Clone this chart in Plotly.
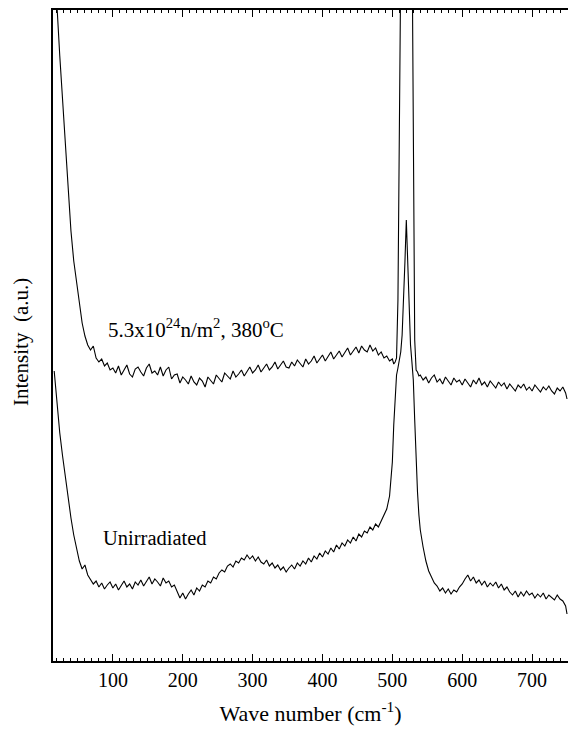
import plotly.graph_objects as go

# Wave number grid (cm^-1) shared by both spectra
wavenumber = [16, 20, 24, 28, 32, 36, 40, 44, 48, 52,
              56, 60, 64, 68, 72, 76, 80, 84, 88, 92,
              96, 100, 104, 108, 112, 116, 120, 124, 128, 132,
              136, 140, 144, 148, 152, 156, 160, 164, 168, 172,
              176, 180, 184, 188, 192, 196, 200, 204, 208, 212,
              216, 220, 224, 228, 232, 236, 240, 244, 248, 252,
              256, 260, 264, 268, 272, 276, 280, 284, 288, 292,
              296, 300, 304, 308, 312, 316, 320, 324, 328, 332,
              336, 340, 344, 348, 352, 356, 360, 364, 368, 372,
              376, 380, 384, 388, 392, 396, 400, 404, 408, 412,
              416, 420, 424, 428, 432, 436, 440, 444, 448, 452,
              456, 460, 464, 468, 472, 476, 480, 484, 488, 492,
              496, 500,
              502, 504, 506, 508, 510, 512, 514, 516, 518, 520,
              522, 524, 526, 528, 530, 532, 534, 536, 538,
              540, 544, 548, 552, 556, 560, 564, 568, 572, 576,
              580, 584, 588, 592, 596, 600, 604, 608, 612, 616,
              620, 624, 628, 632, 636, 640, 644, 648, 652, 656,
              660, 664, 668, 672, 676, 680, 684, 688, 692, 696,
              700, 704, 708, 712, 716, 720, 724, 728, 732, 736,
              740, 744, 748, 750]

# Irradiated sample (5.3x10^24 n/m^2, 380 C), intensity in a.u.
irradiated = [820, 655, 605, 560, 515, 470, 430, 400, 378, 357,
              338, 325, 316, 311, 315, 303, 299, 302, 295, 298,
              291, 293, 288, 295, 286, 291, 296, 287, 284, 292,
              294, 289, 285, 293, 297, 288, 290, 286, 294, 285,
              291, 294, 282, 286, 287, 278, 284, 281, 277, 285,
              279, 276, 283, 280, 274, 284, 281, 277, 286, 282,
              279, 288, 285, 282, 290, 284, 287, 291, 285, 289,
              294, 288, 291, 296, 289, 293, 297, 291, 294, 299,
              292, 296, 300, 294, 293, 299, 295, 301, 298, 294,
              302, 297, 300, 305, 298, 302, 306, 300, 304, 309,
              302, 306, 310, 304, 308, 313, 306, 310, 314, 308,
              315, 311, 309, 316, 310, 313, 306, 309, 303, 305,
              300, 302,
              297, 299, 303, 361, 511, 661, 861, 1061, 1261, 1361,
              1311, 1161, 961, 711, 461, 321, 291, 289, 285,
              286, 281, 284, 278, 283, 286, 279, 282, 277, 284,
              280, 276, 283, 279, 281, 276, 282, 278, 274, 281,
              277, 283, 276, 279, 274, 280, 277, 273, 279, 275,
              278, 272, 277, 274, 270, 276, 273, 277, 271, 274,
              270, 276, 272, 269, 274, 271, 275, 270, 267, 273,
              270, 274, 268, 262]

# Unirradiated sample, intensity in a.u.
unirradiated = [290, 256, 228, 205, 183, 163, 143, 126, 112, 100,
                92, 96, 86, 82, 77, 80, 74, 78, 72, 76,
                79, 73, 77, 71, 75, 80, 74, 77, 72, 79,
                76, 81, 75, 79, 84, 77, 82, 79, 75, 83,
                78, 80, 74, 76, 70, 63, 68, 62, 67, 71,
                66, 73, 70, 76, 74, 80, 78, 84, 82, 88,
                91, 89, 95, 97, 94, 100, 98, 103, 101, 106,
                102, 105, 100, 104, 99, 97, 101, 95, 98, 93,
                96, 91, 94, 89, 93, 96, 92, 98, 95, 100,
                97, 103, 99, 105, 102, 108, 104, 110, 107, 113,
                109, 116, 112, 118, 115, 121, 118, 124, 120, 127,
                124, 130, 128, 134, 131, 137, 134, 140, 145, 152,
                165, 199,
                236, 269, 286, 293, 301, 309, 326, 356, 399, 441,
                399, 351, 316, 299, 281, 241, 199, 169, 146,
                131, 114, 100, 90, 84, 78, 75, 70, 73, 68,
                72, 67, 71, 69, 74, 77, 82, 86, 80, 84,
                78, 81, 76, 80, 74, 78, 75, 79, 73, 77,
                71, 74, 69, 66, 70, 64, 69, 65, 70, 66,
                68, 63, 67, 64, 68, 62, 66, 63, 61, 66,
                62, 60, 55, 47]

assert len(wavenumber) == len(irradiated) == len(unirradiated)

serif = "Liberation Serif, Times New Roman, serif"

fig = go.Figure()
fig.add_trace(go.Scatter(x=wavenumber, y=irradiated, mode="lines",
                         line=dict(color="black", width=1.1), showlegend=False))
fig.add_trace(go.Scatter(x=wavenumber, y=unirradiated, mode="lines",
                         line=dict(color="black", width=1.1), showlegend=False))

fig.update_layout(
    width=568, height=729,
    margin=dict(l=53, r=0, t=10, b=68),
    paper_bgcolor="white", plot_bgcolor="white",
    font=dict(family=serif, color="black"),
    xaxis=dict(range=[14.3, 751.4], showgrid=False, zeroline=False,
               showline=True, linecolor="black", linewidth=1.5, mirror="ticks",
               ticks="inside", ticklen=7, tickwidth=1, tickcolor="black",
               tick0=0, dtick=100, tickfont=dict(family=serif, size=20),
               minor=dict(ticks="inside", ticklen=3, tickwidth=1, tickcolor="black",
                          dtick=10, tick0=0, showgrid=False),
               title=dict(text="Wave number (cm<sup>-1</sup>)",
                          font=dict(family=serif, size=22), standoff=16)),
    yaxis=dict(range=[0, 651], showgrid=False, zeroline=False,
               showline=True, linecolor="black", linewidth=1.5,
               ticks="", showticklabels=False),
    annotations=[
        dict(text="Intensity  (a.u.)", textangle=-90, xref="paper", yref="paper",
             x=-0.062, y=0.49, xanchor="center", yanchor="middle", showarrow=False,
             font=dict(family=serif, size=21)),
        dict(text="5.3x10<sup>24</sup>n/m<sup>2</sup>, 380<sup>o</sup>C", x=90.6, y=333,
             xref="x", yref="y", xanchor="left", yanchor="middle", showarrow=False,
             font=dict(family=serif, size=21)),
        dict(text="Unirradiated", x=82.7, y=123, xref="x", yref="y",
             xanchor="left", yanchor="middle", showarrow=False,
             font=dict(family=serif, size=20.5)),
    ],
)

fig.write_html("out.html")
